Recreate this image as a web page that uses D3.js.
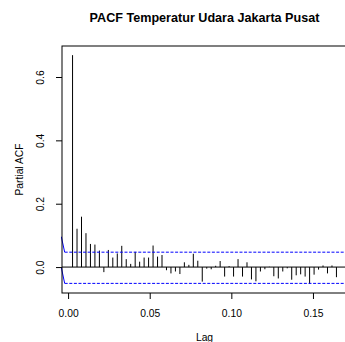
<!DOCTYPE html>
<html>
<head>
<meta charset="utf-8">
<script src="https://cdn.jsdelivr.net/npm/d3@7/dist/d3.min.js"></script>
<style>
  html, body { margin: 0; padding: 0; background: #fff; }
  svg { display: block; }
  text { font-family: "Liberation Sans", Arial, Helvetica, sans-serif; fill: #000; }
</style>
</head>
<body>
<script>
// ---- data ----
const title = "PACF Temperatur Udara Jakarta Pusat";
const xLabel = "Lag";
const yLabel = "Partial ACF";
const frequency = 365;
const lags = d3.range(1, 61);
const pacf = [
  0.669, 0.121, 0.159, 0.107, 0.073, 0.071, 0.052, -0.016, 0.054, 0.030,
  0.043, 0.067, 0.025, 0.010, 0.048, 0.017, 0.030, 0.030, 0.068, 0.033,
  0.038, -0.010, -0.020, -0.014, -0.022, 0.015, 0.007, 0.042, 0.020, -0.046,
  -0.005, -0.007, 0.004, 0.019, -0.030, 0.003, -0.030, 0.025, -0.030, 0.015,
  -0.039, -0.045, -0.014, -0.007, 0.001, -0.029, -0.036, -0.014, -0.004, -0.040,
  -0.026, -0.023, -0.030, -0.053, -0.024, -0.008, 0.005, -0.020, 0.005, -0.032
];
const ciUpper = 0.047;
const ciLower = -0.0515;
// short solid lead-in of the blue limit lines at the left edge (lag in years, value)
const ciUpperLead = [[-0.00416, 0.096], [-0.00208, ciUpper]];
const ciLowerLead = [[-0.00416, -0.001], [-0.00208, ciLower]];
const xTicks = [0.00, 0.05, 0.10, 0.15];
const yTicks = [0.0, 0.2, 0.4, 0.6];

// ---- layout ----
const W = 345, H = 342;
const box = { left: 62, right: 347, top: 46, bottom: 293 };

const svg = d3.select("body").append("svg").attr("width", W).attr("height", H);

const lagYears = lags.map(l => l / frequency);
function extend(ext) { const d = (ext[1] - ext[0]) * 0.04; return [ext[0] - d, ext[1] + d]; }
const xDom = extend(d3.extent(lagYears));
const yDom = extend([Math.min(ciLower, d3.min(pacf)), Math.max(ciUpper, d3.max(pacf))]);

const x = d3.scaleLinear().domain(xDom).range([box.left, box.right]);
const y = d3.scaleLinear().domain(yDom).range([box.bottom, box.top]);

svg.append("defs").append("clipPath").attr("id", "clip")
  .append("rect").attr("x", box.left - 1).attr("y", box.top).attr("width", box.right - box.left + 1).attr("height", box.bottom - box.top);

const plot = svg.append("g").attr("clip-path", "url(#clip)");

// zero line
plot.append("line")
  .attr("x1", box.left).attr("x2", box.right)
  .attr("y1", y(0)).attr("y2", y(0))
  .attr("stroke", "#000").attr("stroke-width", 1);

// bars (type "h")
plot.selectAll("line.bar").data(lags).enter().append("line")
  .attr("class", "bar")
  .attr("x1", (d, i) => x(lagYears[i])).attr("x2", (d, i) => x(lagYears[i]))
  .attr("y1", y(0)).attr("y2", (d, i) => y(pacf[i]))
  .attr("stroke", "#000").attr("stroke-width", 1);

// confidence limits
const lineGen = d3.line().x(d => x(d[0])).y(d => y(d[1]));
[[ciUpperLead, ciUpper], [ciLowerLead, ciLower]].forEach(([lead, v]) => {
  plot.append("path").attr("d", lineGen(lead))
    .attr("fill", "none").attr("stroke", "#0000ff").attr("stroke-width", 1);
  plot.append("path").attr("d", lineGen([[lead[1][0], v], [xDom[1], v]]))
    .attr("fill", "none").attr("stroke", "#0000ff").attr("stroke-width", 1)
    .attr("stroke-dasharray", "3,1.6");
});

// box
svg.append("rect")
  .attr("x", box.left).attr("y", box.top)
  .attr("width", box.right - box.left).attr("height", box.bottom - box.top)
  .attr("fill", "none").attr("stroke", "#000").attr("stroke-width", 1);

// x axis
const xAxis = d3.axisBottom(x).tickValues(xTicks).tickFormat(d3.format(".2f")).tickSize(6).tickPadding(0);
const gx = svg.append("g").attr("transform", `translate(0,${box.bottom})`).call(xAxis);
gx.select(".domain").remove();
gx.selectAll("text").attr("font-size", "10.3px").attr("dy", null).attr("y", 24)
  .attr("font-family", "Liberation Sans, Arial, sans-serif");

// y axis
const yAxis = d3.axisLeft(y).tickValues(yTicks).tickFormat(d3.format(".1f")).tickSize(6).tickPadding(0);
const gy = svg.append("g").attr("transform", `translate(${box.left},0)`).call(yAxis);
gy.select(".domain").remove();
gy.selectAll("text")
  .attr("font-size", "10.3px")
  .attr("font-family", "Liberation Sans, Arial, sans-serif")
  .attr("text-anchor", "middle")
  .attr("dy", null)
  .attr("x", null)
  .attr("transform", "translate(" + (43.5 - box.left) + ",0) rotate(-90)");

svg.selectAll(".tick line").attr("stroke", "#000");

// titles
svg.append("text").attr("x", (box.left + box.right) / 2).attr("y", 22)
  .attr("text-anchor", "middle").attr("font-weight", "bold").attr("font-size", "12.6px")
  .text(title);
svg.append("text").attr("x", (box.left + box.right) / 2).attr("y", 341)
  .attr("text-anchor", "middle").attr("font-size", "10.3px").text(xLabel);
svg.append("text")
  .attr("transform", `translate(23,${(box.top + box.bottom) / 2}) rotate(-90)`)
  .attr("text-anchor", "middle").attr("font-size", "10.3px").text(yLabel);
</script>
</body>
</html>
